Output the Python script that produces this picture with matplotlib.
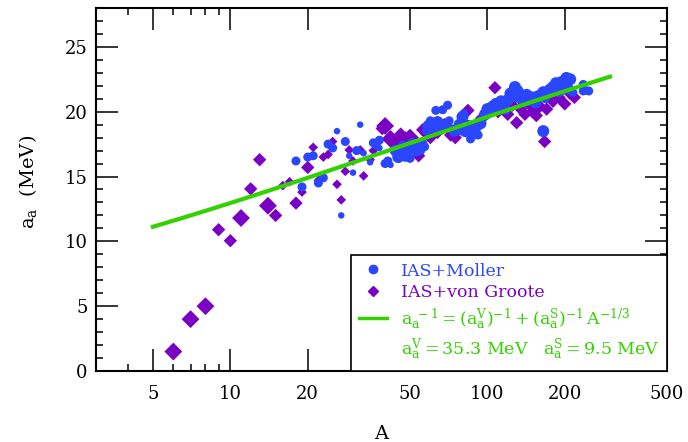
import numpy as np
import matplotlib
matplotlib.use("Agg")
import matplotlib.pyplot as plt
from matplotlib.lines import Line2D
from matplotlib.ticker import FixedLocator, NullFormatter

plt.rcParams['font.family'] = ['DejaVu Serif']
plt.rcParams['mathtext.fontset'] = 'dejavuserif'
plt.rcParams['mathtext.default'] = 'regular'

# IAS+Moller (blue circles): mass number, a_a (MeV), marker weight
moller_A = [18, 20, 21, 19, 22, 23, 24, 25, 26, 27, 28, 29, 30, 31, 32, 33, 35, 36, 37, 38, 38, 40, 41, 42,
            44, 45, 46, 47, 48, 49, 50, 51, 52, 53, 54, 55, 56, 57,
            58, 59, 60, 61, 62, 63, 64, 65, 66, 67, 68, 70, 71, 72,
            74, 76, 78, 80, 81, 82, 84, 86, 88, 90, 92, 94, 96, 98, 100,
            102, 105, 108, 110, 113, 116, 118, 120, 123, 126, 128, 131, 134,
            138, 142, 146, 150, 154, 158, 165, 165, 168,
            175, 180, 185, 190, 195, 200, 203, 205, 210, 215, 236, 236, 248]
moller_aa = [16.2, 16.5, 16.6, 14.2, 14.5, 14.9, 17.5, 17.2, 18.5, 12.0, 17.7, 16.6, 15.3, 17.0, 19.0, 16.8, 16.1,
             17.6, 17.4, 17.8, 17.2, 16.0, 16.2, 15.9,
             17.0, 16.5, 16.8, 17.3, 16.6, 17.0, 16.4, 17.5, 17.2, 16.9, 17.4, 17.0, 17.6, 17.3,
             18.5, 18.9, 19.3, 18.8, 19.0, 20.1, 19.2, 18.6, 19.1, 20.15, 18.9, 20.5, 19.3, 18.7,
             18.4, 18.6, 19.0, 19.6, 19.85, 18.5, 18.9, 17.9, 18.3, 18.8, 18.2, 19.1, 19.5, 19.8, 20.2,
             20.0, 20.4, 20.6, 20.3, 20.8, 20.5, 20.1, 20.9, 21.4, 21.2, 21.9, 21.6, 21.1,
             20.8, 21.3, 20.9, 21.1, 20.7, 21.2, 18.5, 21.5, 21.0,
             21.7, 21.9, 22.2, 21.6, 22.3, 22.0, 22.6, 21.8, 22.5, 21.5, 22.1, 21.6, 21.6]
moller_w = [2, 2, 2, 2, 2, 2, 2, 2, 1, 1, 2, 1, 1, 2, 1, 1, 1, 2, 2, 2, 1, 2, 2, 1,
            3, 3, 3, 3, 3, 3, 2, 3, 2, 2, 2, 2, 2, 2,
            2, 3, 2, 3, 3, 2, 3, 2, 2, 2, 2, 2, 2, 2,
            2, 3, 3, 3, 2, 3, 3, 2, 3, 3, 2, 3, 2, 3, 3,
            3, 3, 3, 3, 3, 3, 2, 3, 3, 3, 3, 3, 3,
            3, 3, 3, 3, 3, 3, 3, 3, 2,
            3, 3, 3, 3, 3, 3, 3, 3, 3, 2, 2, 2, 2]

# IAS+von Groote (purple diamonds)
groote_A = [6, 7, 8, 9, 10, 11, 12, 13, 14, 15, 16, 17, 18, 19, 20, 21, 22, 23, 24, 25, 26, 27, 28, 29, 30,
            32, 33, 35, 36, 39, 40, 42, 44, 46, 48, 50, 52, 54, 56, 58, 60, 64, 68, 72, 75, 80, 84, 90, 95,
            100, 107, 110, 115, 120, 125, 130, 135, 140, 145, 150, 155, 160, 167, 170, 180, 190, 200, 210, 218]
groote_aa = [1.5, 4.0, 5.0, 10.9, 10.05, 11.8, 14.05, 16.3, 12.75, 12.0, 14.3, 14.6, 12.95, 13.8, 15.7, 17.25,
             14.7, 16.5, 16.7, 17.7, 14.4, 13.2, 15.4, 17.05, 16.2,
             17.05, 15.05, 16.3, 17.0, 18.7, 18.9, 17.9, 17.6, 18.1, 17.8, 18.0, 17.5, 16.6, 18.6, 18.3, 18.0,
             18.4, 19.0, 18.2, 18.0, 19.2, 20.1, 19.0, 19.5,
             20.0, 21.85, 20.0, 20.3, 19.8, 20.5, 19.15, 20.2, 19.8, 20.6, 20.0, 19.7, 20.4, 17.7, 20.2, 20.8,
             21.1, 20.6, 21.4, 21.1]
groote_w = [3, 3, 3, 2, 2, 3, 2, 2, 3, 2, 1, 1, 2, 1, 2, 1, 1, 1, 1, 1, 1, 1, 1, 1, 1,
            1, 1, 1, 1, 2, 3, 3, 2, 3, 3, 3, 2, 2, 2, 2, 2, 2, 2, 2, 2, 2, 2, 2, 2,
            2, 2, 2, 2, 2, 2, 2, 2, 2, 2, 2, 2, 2, 2, 2, 2, 2, 2, 2, 2]

# fit parameters from the legend
aV = 35.3
aS = 9.5
fit_range = (5, 300)

blue = '#2a46ff'
purple = '#7a00c4'
green = '#33d100'

fig = plt.figure(figsize=(6.88, 4.42), dpi=100)
ax = fig.add_axes([0.1395, 0.1606, 0.83, 0.8214])

size_map = {1: 22, 2: 42, 3: 75}
ax.scatter(groote_A, groote_aa, s=[size_map[w] * 1.1 for w in groote_w], marker='D',
           color=purple, linewidths=0, zorder=2)
ax.scatter(moller_A, moller_aa, s=[size_map[w] for w in moller_w], marker='o',
           color=blue, linewidths=0, zorder=3)

A_fit = np.geomspace(fit_range[0], fit_range[1], 200)
aa_fit = 1.0 / (1.0 / aV + A_fit ** (-1.0 / 3) / aS)
ax.plot(A_fit, aa_fit, color=green, lw=3, zorder=4)

ax.set_xscale('log')
ax.set_xlim(3, 500)
ax.set_ylim(0, 28)
ax.xaxis.set_major_locator(FixedLocator([5, 10, 20, 50, 100, 200, 500]))
ax.xaxis.set_minor_locator(FixedLocator([4, 6, 7, 8, 9]))
ax.xaxis.set_minor_formatter(NullFormatter())
ax.set_xticklabels(['5', '10', '20', '50', '100', '200', '500'])
ax.set_yticks([0, 5, 10, 15, 20, 25])
ax.set_yticks(np.arange(0, 28, 1), minor=True)

ax.tick_params(which='both', direction='in', top=True, right=True, labelsize=13, width=1.1, colors='black')
ax.tick_params(which='major', length=16)
ax.tick_params(which='minor', length=5)
ax.tick_params(axis='x', pad=10)
ax.tick_params(axis='y', pad=6)
for sp in ax.spines.values():
    sp.set_linewidth(1.5)

ax.set_xlabel('A', fontsize=14, labelpad=16)
ax.set_ylabel(r'$a_a$  (MeV)', fontsize=14)
ax.yaxis.set_label_coords(-0.1, 0.52)

handles = [
    Line2D([], [], marker='o', color=blue, ls='none', markersize=6),
    Line2D([], [], marker='D', color=purple, ls='none', markersize=5),
    Line2D([], [], color=green, lw=2.5),
    Line2D([], [], ls='none'),
]
labels = [
    'IAS+Moller',
    'IAS+von Groote',
    r'$a_a^{\ -1} = (a_a^V)^{-1} + (a_a^S)^{-1}\,A^{-1/3}$',
    r'$a_a^V = 35.3\ MeV\ \ \ a_a^S = 9.5\ MeV$',
]
leg = ax.legend(handles, labels, loc='lower right', borderaxespad=0, fancybox=False,
                edgecolor='black', framealpha=1, fontsize=12.5, handlelength=1.6,
                labelspacing=0.28, borderpad=0.45, handletextpad=0.8)
leg.get_frame().set_linewidth(1.2)
for txt, c in zip(leg.get_texts(), [blue, purple, green, green]):
    txt.set_color(c)

fig.savefig('out.png', dpi=100)
